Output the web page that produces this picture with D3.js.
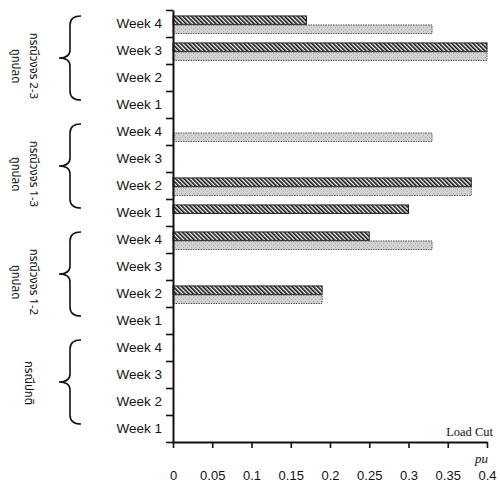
<!DOCTYPE html>
<html>
<head>
<meta charset="utf-8">
<script src="https://cdn.jsdelivr.net/npm/d3@7"></script>
<style>
  body { margin: 0; background: #fff; }
  svg { display: block; }
</style>
</head>
<body>
<svg id="chart" width="500" height="485"></svg>
<script>
// Scenario groups, listed from the bottom of the chart upwards
const groups = [
  ["กรณีปกติ"],
  ["กรณีวงจร 1-2", "ถูกปลด"],
  ["กรณีวงจร 1-3", "ถูกปลด"],
  ["กรณีวงจร 2-3", "ถูกปลด"]
];
const weeks = ["Week 1", "Week 2", "Week 3", "Week 4"];

// Load cut (pu) per group, Week 1..Week 4; null = no bar
const hatchedValues = [
  [null, null, null, null],
  [null, 0.19, null, 0.25],
  [0.30, 0.38, null, null],
  [null, null, 0.40, 0.17]
];
const grayValues = [
  [null, null, null, null],
  [null, 0.19, null, 0.33],
  [null, 0.38, null, 0.33],
  [null, null, 0.40, 0.33]
];
const xTicks = [0, 0.05, 0.1, 0.15, 0.2, 0.25, 0.3, 0.35, 0.4];

const svg = d3.select("#chart");
const plotLeft = 173, plotRight = 487, plotTop = 10, plotBottom = 442;

// one row per (group, week), top row first
const rows = [];
groups.forEach((g, gi) => weeks.forEach((w, wi) => rows.push({ key: gi + "-" + wi, gi, wi, week: w })));
rows.reverse();

const x = d3.scaleLinear().domain([0, 0.4]).range([plotLeft, plotRight]);
const y = d3.scaleBand().domain(rows.map(r => r.key)).range([plotTop, plotBottom]);
const sub = d3.scaleBand().domain(["hatched", "gray"]).range([y.bandwidth() * 0.22, y.bandwidth() * 0.87]).paddingInner(0.06);
const yEdge = d3.scaleLinear().domain([0, rows.length]).range([plotBottom, plotTop]);

// hatch pattern
const defs = svg.append("defs");
const pat = defs.append("pattern")
  .attr("id", "hatch").attr("patternUnits", "userSpaceOnUse")
  .attr("width", 3).attr("height", 3)
  .attr("patternTransform", "rotate(-45)");
pat.append("rect").attr("width", 3).attr("height", 3).attr("fill", "#fff");
pat.append("line").attr("x1", 0.8).attr("y1", 0).attr("x2", 0.8).attr("y2", 3)
  .attr("stroke", "#111").attr("stroke-width", 1.7);

const gp = defs.append("pattern")
  .attr("id", "stipple").attr("patternUnits", "userSpaceOnUse")
  .attr("width", 4).attr("height", 4);
gp.append("rect").attr("width", 4).attr("height", 4).attr("fill", "#d2d2d2");
gp.append("rect").attr("x", 1).attr("y", 1).attr("width", 1).attr("height", 1).attr("fill", "#a8a8a8");
gp.append("rect").attr("x", 3).attr("y", 3).attr("width", 1).attr("height", 1).attr("fill", "#b4b4b4");

// bars
const barData = [];
rows.forEach(r => {
  const h = hatchedValues[r.gi][r.wi];
  const g = grayValues[r.gi][r.wi];
  if (h != null) barData.push({ row: r, series: "hatched", v: h });
  if (g != null) barData.push({ row: r, series: "gray", v: g });
});

svg.append("g").selectAll("rect").data(barData).join("rect")
  .attr("x", x(0))
  .attr("y", d => y(d.row.key) + sub(d.series))
  .attr("width", d => x(d.v) - x(0))
  .attr("height", sub.bandwidth())
  .attr("fill", d => d.series === "hatched" ? "url(#hatch)" : "url(#stipple)")
  .attr("stroke", d => d.series === "hatched" ? "#222" : "#555")
  .attr("stroke-width", 1)
  .attr("stroke-dasharray", d => d.series === "hatched" ? null : "1.5,1");

// y axis: ticks on row boundaries
const yAxis = svg.append("g").attr("transform", `translate(${plotLeft},0)`)
  .call(d3.axisLeft(yEdge).tickValues(d3.range(0, rows.length + 1)).tickFormat("").tickSize(7).tickSizeOuter(0));
yAxis.select(".domain").attr("stroke", "#111").attr("stroke-width", 2);
yAxis.selectAll(".tick line").attr("stroke", "#111").attr("stroke-width", 1.6);

// week labels
const yLab = svg.append("g").attr("transform", `translate(${plotLeft},0)`)
  .call(d3.axisLeft(y).tickFormat(k => rows.find(r => r.key === k).week).tickSize(0).tickPadding(11));
yLab.select(".domain").remove();
yLab.selectAll("text").attr("font-family", "Liberation Sans, Arial, sans-serif")
  .attr("font-size", 13.5).attr("fill", "#111");

// x axis
const xAxis = svg.append("g").attr("transform", `translate(0,${plotBottom})`)
  .call(d3.axisBottom(x).tickValues(xTicks).tickFormat(d3.format("~g")).tickSize(6).tickPadding(23).tickSizeOuter(0));
xAxis.select(".domain").attr("stroke", "#111").attr("stroke-width", 2);
xAxis.selectAll(".tick line").attr("stroke", "#111").attr("stroke-width", 1.6);
xAxis.selectAll("text").attr("font-family", "Liberation Sans, Arial, sans-serif")
  .attr("font-size", 13).attr("fill", "#111");

svg.append("text").attr("x", 493).attr("y", 436).attr("text-anchor", "end")
  .attr("font-family", "Liberation Serif, Times New Roman, serif").attr("font-size", 12.5).attr("fill", "#111")
  .text("Load Cut");
svg.append("text").attr("x", 488).attr("y", 463).attr("text-anchor", "end")
  .attr("font-family", "Liberation Serif, Times New Roman, serif").attr("font-style", "italic")
  .attr("font-size", 13).attr("fill", "#111")
  .text("pu");

// group braces and labels
const braceG = svg.append("g");
groups.forEach((lines, gi) => {
  const yTop = y(gi + "-3");
  const yBot = y(gi + "-0") + y.bandwidth();
  const b0 = yTop + 6, b1 = yBot - 18, mid = (b0 + b1) / 2;
  const xr = 81, xs = 70, xt = 59;
  const p = d3.path();
  p.moveTo(xr, b0);
  p.quadraticCurveTo(xs, b0, xs, b0 + 9);
  p.lineTo(xs, mid - 8);
  p.quadraticCurveTo(xs, mid, xt, mid);
  p.quadraticCurveTo(xs, mid, xs, mid + 8);
  p.lineTo(xs, b1 - 9);
  p.quadraticCurveTo(xs, b1, xr, b1);
  braceG.append("path").attr("d", p.toString()).attr("fill", "none")
    .attr("stroke", "#111").attr("stroke-width", 1.6);

  const cy = mid + (lines.length > 1 ? 8 : 1);
  const cx = lines.length > 1 ? 33 : 28;
  const t = braceG.append("text")
    .attr("transform", `translate(${cx},${cy}) rotate(90)`)
    .attr("text-anchor", "middle")
    .attr("font-family", "Noto Sans Thai, Loma, Garuda, Tlwg Typo, sans-serif")
    .attr("font-size", 11.5).attr("fill", "#111");
  lines.forEach((s, i) => t.append("tspan").attr("x", 0).attr("y", i * 18).attr("dominant-baseline", "central").text(s));
});
</script>
</body>
</html>
